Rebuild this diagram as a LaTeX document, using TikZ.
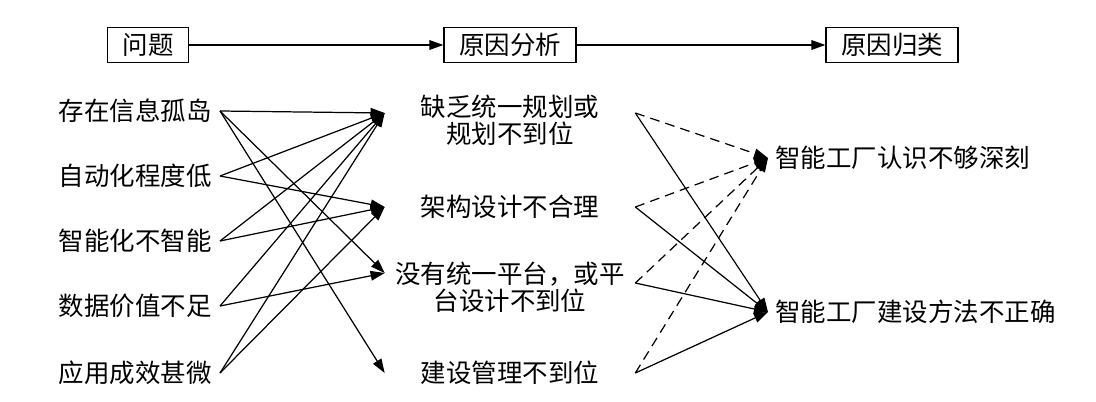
\documentclass[tikz,border=0pt]{standalone}
\usepackage{fontspec}
\setmainfont{Noto Sans CJK SC}
\usetikzlibrary{arrows.meta}
\tikzstyle{txt}=[font=\fontsize{14.5}{15.5}\selectfont,inner sep=0pt]
\tikzstyle{head}=[txt,draw,line width=0.7pt,minimum height=0.7cm,inner xsep=0.3cm]
\tikzstyle{prob}=[txt,anchor=east,inner xsep=0.16cm]
\tikzstyle{cause}=[txt,align=center,text width=5cm]
\tikzstyle{kind}=[txt,anchor=west,inner xsep=0.14cm]
\tikzstyle{link}=[-{Triangle[length=8pt,width=5.5pt]},line width=0.7pt]
\tikzstyle{weak}=[link,dash pattern=on 5.5pt off 3.5pt]

\begin{document}
\begin{tikzpicture}[x=0.02cm,y=-0.02cm]
    \useasboundingbox (0,0) rectangle (1096,402);
    % headings
    \node[head] (h1) at (148,45) {问题};
    \node[head] (h2) at (510,45) {原因分析};
    \node[head] (h3) at (892,45) {原因归类};
    \draw[link] (h1) -- (h2);
    \draw[link] (h2) -- (h3);
    % problems
    \node[prob] (p1) at (220,111) {存在信息孤岛};
    \node[prob] (p2) at (220,176) {自动化程度低};
    \node[prob] (p3) at (220,241) {智能化不智能};
    \node[prob] (p4) at (220,306) {数据价值不足};
    \node[prob] (p5) at (220,373) {应用成效甚微};
    % causes
    \node[cause] (c1) at (510,120) {缺乏统一规划或\\规划不到位};
    \node[cause] (c2) at (510,207) {架构设计不合理};
    \node[cause] (c3) at (510,287) {没有统一平台，或平\\台设计不到位};
    \node[cause] (c4) at (510,373) {建设管理不到位};
    % kinds
    \node[kind] (k1) at (768,158) {智能工厂认识不够深刻};
    \node[kind] (k2) at (768,312) {智能工厂建设方法不正确};
    % problems -> causes
    \draw[link] (p1.east) -- ([yshift=0.14cm]c1.west);
    \draw[link] (p1.east) -- ([yshift=0.28cm]c3.west);
    \draw[link] (p1.east) -- (c4.west);
    \draw[link] (p2.east) -- ([yshift=0.14cm]c1.west);
    \draw[link] (p2.east) -- (c2.west);
    \draw[link] (p3.east) -- ([yshift=0.14cm]c1.west);
    \draw[link] (p3.east) -- (c2.west);
    \draw[link] (p4.east) -- ([yshift=0.14cm]c1.west);
    \draw[link] (p4.east) -- ([yshift=0.28cm]c3.west);
    \draw[link] (p5.east) -- ([yshift=0.14cm]c1.west);
    \draw[link] (p5.east) -- (c2.west);
    % causes -> kinds
    \draw[weak] ([yshift=0.14cm]c1.east) -- (k1.west);
    \draw[weak] (c2.east) -- (k1.west);
    \draw[weak] ([yshift=0.08cm]c3.east) -- (k1.west);
    \draw[weak] (c4.east) -- (k1.west);
    \draw[link] ([yshift=0.14cm]c1.east) -- (k2.west);
    \draw[link] (c2.east) -- (k2.west);
    \draw[link] ([yshift=0.08cm]c3.east) -- (k2.west);
    \draw[link] (c4.east) -- (k2.west);
  \end{tikzpicture}
\end{document}
